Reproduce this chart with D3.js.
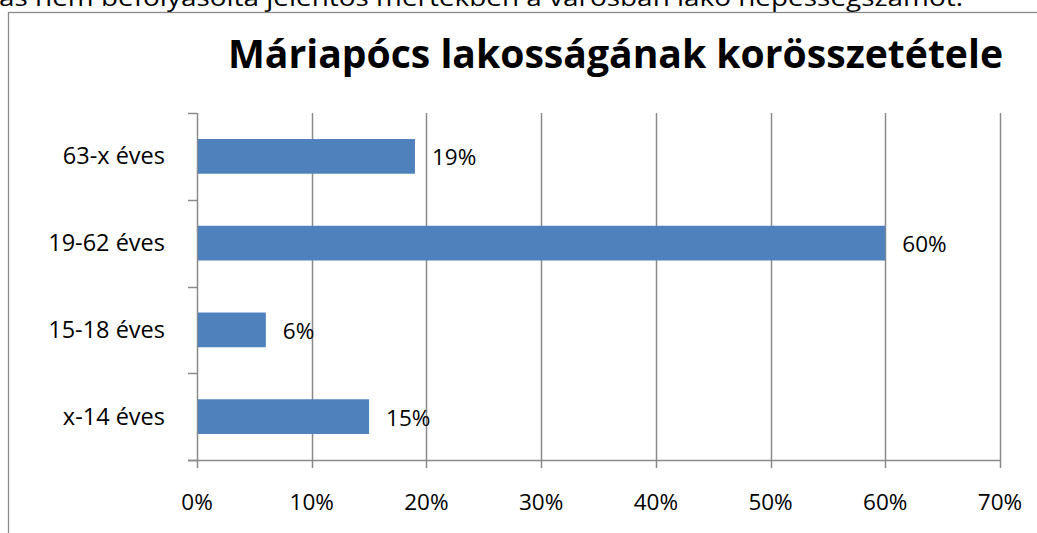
<!DOCTYPE html>
<html><head><meta charset="utf-8">
<script src="https://cdn.jsdelivr.net/npm/d3@7"></script>
<style>html,body{margin:0;padding:0;background:#fff;overflow:hidden}</style>
</head><body>
<script>
const categories = ["63-x éves", "19-62 éves", "15-18 éves", "x-14 éves"];
const values = [19, 60, 6, 15];
const xTicks = [0, 10, 20, 30, 40, 50, 60, 70];
const titleText = "Máriapócs lakosságának korösszetétele";
const aboveText = "ás nem befolyásolta jelentős mértékben a városban lakó népességszámot.";

const W = 1037, H = 533;
const svg = d3.select("body").append("svg").attr("width", W).attr("height", H);
const font = "'Open Sans', sans-serif";
const grid = "#8a8a8a";

// clipped paragraph text above chart
svg.append("text").attr("x", -1).attr("y", 6)
  .attr("font-family", font).attr("font-size", 23).attr("fill", "#000")
  .attr("textLength", 964).attr("lengthAdjust", "spacingAndGlyphs")
  .text(aboveText);

// chart frame
svg.append("rect").attr("x", 8.5).attr("y", 12.5).attr("width", 1100).attr("height", 600)
  .attr("fill", "#fff").attr("stroke", grid).attr("stroke-width", 1.3);

// title
svg.append("text").attr("x", 228).attr("y", 68)
  .attr("font-family", font).attr("font-weight", "bold").attr("font-size", 39)
  .attr("textLength", 775).attr("lengthAdjust", "spacingAndGlyphs")
  .text(titleText);

const x = d3.scaleLinear().domain([0, 70]).range([197, 1000]);
const y = d3.scaleBand().domain(categories).range([113, 460]).paddingInner(0.6).paddingOuter(0.3);

// vertical gridlines + tick marks
svg.append("g").selectAll("line").data(xTicks).join("line")
  .attr("x1", d => Math.round(x(d)) + 0.5).attr("x2", d => Math.round(x(d)) + 0.5)
  .attr("y1", 113).attr("y2", 468)
  .attr("stroke", grid).attr("stroke-width", 1.5);

// x axis line
svg.append("line").attr("x1", 188).attr("x2", x(70) + 1).attr("y1", 460.5).attr("y2", 460.5)
  .attr("stroke", grid).attr("stroke-width", 1.5);

// y axis category ticks
const boundaries = d3.range(categories.length + 1).map(i => 113 + i * (460 - 113) / categories.length);
svg.append("g").selectAll("line").data(boundaries).join("line")
  .attr("x1", 188).attr("x2", 197).attr("y1", d => Math.round(d) + 0.5).attr("y2", d => Math.round(d) + 0.5)
  .attr("stroke", grid).attr("stroke-width", 1.5);

// bars
svg.append("g").selectAll("rect").data(values).join("rect")
  .attr("x", x(0) + 1).attr("y", (d, i) => y(categories[i]))
  .attr("width", d => x(d) - x(0) - 1).attr("height", y.bandwidth())
  .attr("fill", "#4F81BD");

// value labels
svg.append("g").selectAll("text").data(values).join("text")
  .attr("x", d => x(d) + 17).attr("y", (d, i) => y(categories[i]) + y.bandwidth() / 2 + 9)
  .attr("font-family", font).attr("font-size", 22.5).attr("fill", "#000")
  .text(d => d + "%");

// category labels
svg.append("g").selectAll("text").data(categories).join("text")
  .attr("x", 165).attr("y", d => y(d) + y.bandwidth() / 2 + 8)
  .attr("text-anchor", "end")
  .attr("font-family", font).attr("font-size", 23.5).attr("fill", "#000")
  .text(d => d);

// x tick labels
svg.append("g").selectAll("text").data(xTicks).join("text")
  .attr("x", d => x(d)).attr("y", 510).attr("text-anchor", "middle")
  .attr("font-family", font).attr("font-size", 22.5).attr("fill", "#000")
  .text(d => d + "%");
</script>
</body></html>
